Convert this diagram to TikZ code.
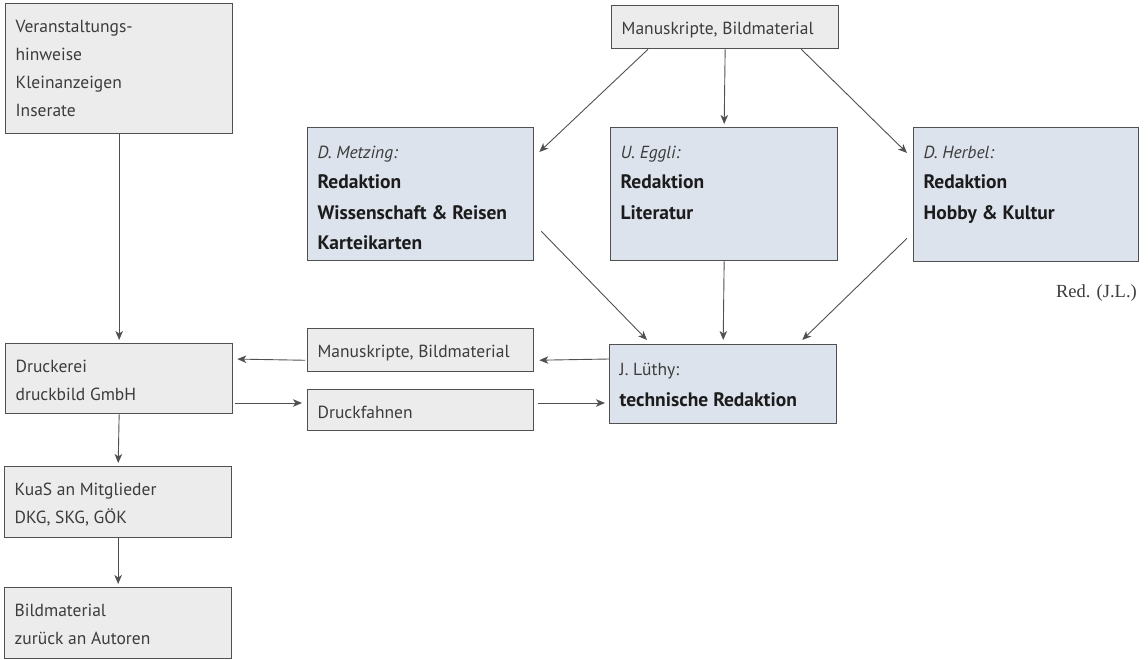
\documentclass[tikz,border=0pt]{standalone}
\usepackage{fontspec}
\setmainfont{PT Sans}
\newfontfamily\redfont{Liberation Serif}
\usetikzlibrary{arrows.meta,calc}
\definecolor{greyfill}{HTML}{ECECEC}
\definecolor{bluefill}{HTML}{DCE3EC}
\definecolor{edgecol}{HTML}{505050}
\definecolor{txtcol}{HTML}{3C3C3C}
\definecolor{boldcol}{HTML}{1C1C1C}
\newcommand\cellbox[3]{\parbox[c][#2][t]{#1}{\raggedright\strut #3}}
\newcommand\bld[1]{{\fontsize{19.5}{30.5}\selectfont\bfseries\color{boldcol}#1}}
\tikzset{
  boxbase/.style={draw=edgecol, line width=1.3pt, inner xsep=10pt, inner ysep=9.5pt,
    anchor=north west, text=txtcol},
  greybox/.style={boxbase, fill=greyfill, font=\fontsize{17.5}{28}\selectfont},
  bluebox/.style={boxbase, fill=bluefill, font=\fontsize{17.5}{30.5}\selectfont},
  conn/.style={draw=edgecol, line width=0.9pt,
    -{Stealth[length=9pt, width=7.5pt, inset=2.5pt]}},
}
\begin{document}
\begin{tikzpicture}[x=1pt, y=-1pt]
\useasboundingbox (0,0) rectangle (1148,660);

% left column
\node[greybox] (anz) at (5,3)
  {\cellbox{207pt}{111pt}{Veranstaltungs-\\hinweise\\Kleinanzeigen\\Inserate}};
\node[greybox] (druck) at (5,343)
  {\cellbox{207pt}{51pt}{Druckerei\\druckbild GmbH}};
\node[greybox] (kuas) at (4,466)
  {\cellbox{207pt}{52pt}{KuaS an Mitglieder\\DKG, SKG, GÖK}};
\node[greybox] (bild) at (4,587)
  {\cellbox{207pt}{52pt}{Bildmaterial\\zurück an Autoren}};

% top
\node[greybox] (manu) at (611,5)
  {\cellbox{207pt}{24pt}{Manuskripte, Bildmaterial}};

% editors
\node[bluebox] (metz) at (307,127)
  {\cellbox{206pt}{114pt}{\textit{D. Metzing:}\\\bld{Redaktion}\\\bld{Wissenschaft \& Reisen}\\\bld{Karteikarten}}};
\node[bluebox] (eggli) at (610,127)
  {\cellbox{207pt}{114pt}{\textit{U. Eggli:}\\\bld{Redaktion}\\\bld{Literatur}}};
\node[bluebox] (herb) at (913,127)
  {\cellbox{205pt}{115pt}{\textit{D. Herbel:}\\\bld{Redaktion}\\\bld{Hobby \& Kultur}}};

\node[font=\redfont\fontsize{18.5}{22}\selectfont, text=txtcol, anchor=base east, inner sep=0pt]
  (red) at (1137,298) {Red. (J.L.)};

% middle row
\node[greybox] (manu2) at (307,328)
  {\cellbox{206pt}{24pt}{Manuskripte, Bildmaterial}};
\node[greybox] (fahnen) at (307,389)
  {\cellbox{206pt}{22pt}{Druckfahnen}};
\node[bluebox] (luthy) at (609,344)
  {\cellbox{207pt}{60pt}{J. Lüthy:\\\bld{technische Redaktion}}};

% connectors
\draw[conn] ($(manu.south west)+(37,0)$) -- ($(metz.north east)+(5,25)$);
\draw[conn, shorten >=3pt] (manu.south) -- (eggli.north);
\draw[conn] ($(manu.south east)+(-38,0)$) -- ($(herb.north west)+(-6,26)$);

\draw[conn] ($(metz.south east)+(7,-30)$) -- ($(luthy.north west)+(38,-4)$);
\draw[conn, shorten >=4pt] (eggli.south) -- (luthy.north);
\draw[conn] ($(herb.south west)+(-6,-24)$) -- ($(luthy.north east)+(-35,-4)$);

\draw[conn, shorten >=5pt] ($(luthy.north west)+(0,15)$) -- ($(manu2.south east)+(0,-12)$);
\draw[conn, shorten <=2pt, shorten >=4pt] ($(manu2.south west)+(0,-12)$) -- ($(druck.north east)+(0,16)$);
\draw[conn, shorten <=2pt, shorten >=5pt] ($(druck.north east)+(0,60)$) -- ($(fahnen.north west)+(0,14)$);
\draw[conn, shorten <=4pt, shorten >=4pt] ($(fahnen.north east)+(0,14)$) -- ($(luthy.north west)+(0,59)$);

\draw[conn, shorten >=3pt] (anz.south) -- (druck.north);
\draw[conn, shorten >=3pt] (druck.south) -- (kuas.north);
\draw[conn, shorten >=3pt] (kuas.south) -- (bild.north);
\end{tikzpicture}
\end{document}
